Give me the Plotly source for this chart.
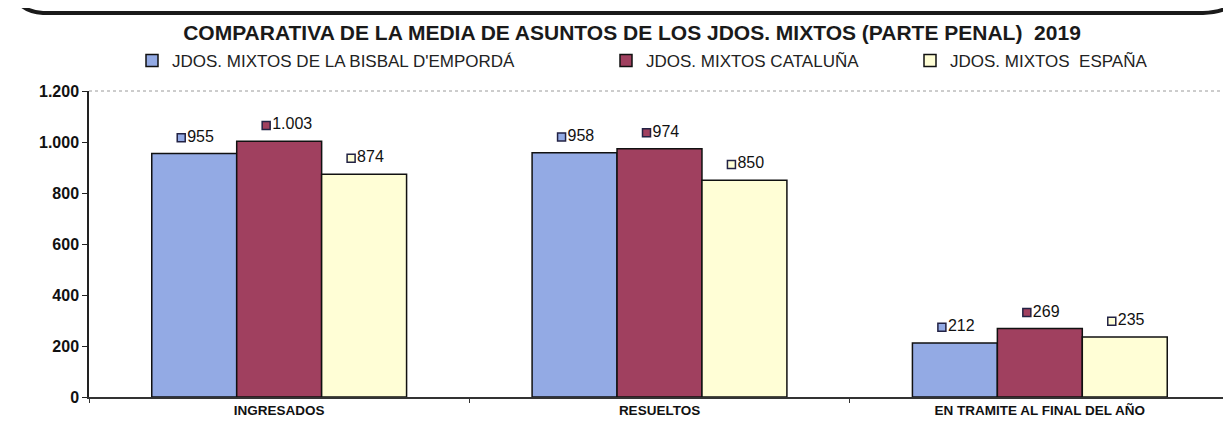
import plotly.graph_objects as go

categories = ["INGRESADOS", "RESUELTOS", "EN TRAMITE AL FINAL DEL AÑO"]
series_names = ["JDOS. MIXTOS DE LA BISBAL D'EMPORDÁ", "JDOS. MIXTOS CATALUÑA", "JDOS. MIXTOS  ESPAÑA"]
bisbal = [955, 958, 212]
cataluna = [1003, 974, 269]
espana = [874, 850, 235]
y_ticks = [0, 200, 400, 600, 800, 1000, 1200]

colors = ["#93AAE4", "#A0405F", "#FFFED6"]
legend_x = [124, 598, 902]  # left edge of each legend (px)
FONT = "Liberation Sans, Arial"

W, H = 1231, 428
L, R, T, B = 81, 9, 83, 39
pw, ph = W - L - R, H - T - B
label_shift = 13 / (pw / 3)  # data labels sit slightly left of bar centre

fig = go.Figure()

for i, (name, vals) in enumerate(zip(series_names, [bisbal, cataluna, espana])):
    leg = "legend" if i == 0 else f"legend{i + 1}"
    fig.add_trace(go.Bar(
        x=categories, y=vals, name=name,
        marker=dict(color=colors[i], line=dict(color="#111111", width=1.5)),
        legend=leg, offsetgroup=str(i),
    ))
    # value labels with a little key square, like the excel original
    fig.add_trace(go.Scatter(
        x=categories, y=[v + 62 for v in vals], xaxis="x2",
        mode="markers+text",
        marker=dict(symbol="square", size=8, color=colors[i],
                    line=dict(color="#222244", width=1.5)),
        text=[f"{v:,}".replace(",", ".") for v in vals],
        textposition="middle right",
        textfont=dict(family=FONT, size=16, color="#111111"),
        showlegend=False, offsetgroup=str(i), hoverinfo="skip",
    ))

# plot frame: light top / right edges
fig.add_shape(type="line", xref="paper", yref="paper", x0=0, x1=1, y0=1, y1=1,
              line=dict(color="#9a9a9a", width=1, dash="dot"))
fig.add_shape(type="line", xref="paper", yref="paper", x0=1, x1=1, y0=0, y1=1,
              line=dict(color="#8a8a9a", width=1))

# bottom edge of the rounded box above the chart
def px2paper(x, y):
    return (x - L) / pw, (H - B - y) / ph

pts = [px2paper(*p) for p in [(10, -6), (18, 4), (35, 5), (1195, 5), (1218, 4), (1228, -6)]]
path = (f"M {pts[0][0]:.4f},{pts[0][1]:.4f} Q {pts[1][0]:.4f},{pts[1][1]:.4f} {pts[2][0]:.4f},{pts[2][1]:.4f} "
        f"L {pts[3][0]:.4f},{pts[3][1]:.4f} Q {pts[4][0]:.4f},{pts[4][1]:.4f} {pts[5][0]:.4f},{pts[5][1]:.4f}")
fig.add_shape(type="path", xref="paper", yref="paper", path=path,
              line=dict(color="#1a1a1a", width=4))

legend_base = dict(orientation="h", xref="container", yref="container", y=1 - 53 / H,
                   yanchor="middle", xanchor="left", bgcolor="rgba(0,0,0,0)",
                   font=dict(family=FONT, size=17, color="#222222"))
fig.update_layout(
    legend=dict(legend_base, x=legend_x[0] / W),
    legend2=dict(legend_base, x=legend_x[1] / W),
    legend3=dict(legend_base, x=legend_x[2] / W),
)

fig.update_layout(
    width=W, height=H,
    margin=dict(l=L, r=R, t=T, b=B, autoexpand=False),
    paper_bgcolor="white", plot_bgcolor="white",
    barmode="group", bargap=0.33, bargroupgap=0,
    scattermode="group", scattergap=0.33,
    separators=",.",
    title=dict(text="<b>COMPARATIVA DE LA MEDIA DE ASUNTOS DE LOS JDOS. MIXTOS (PARTE PENAL)  2019</b>",
               x=624 / W, xanchor="center", y=1 - 25 / H, yanchor="middle",
               xref="container", yref="container",
               font=dict(family=FONT, size=21, color="#1a1a1a")),
    font=dict(family=FONT, color="#111111"),
    xaxis2=dict(overlaying="x", type="category", categoryarray=categories,
                range=[-0.5 + label_shift, 2.5 + label_shift], visible=False),
)

fig.update_yaxes(
    range=[0, 1200], tickvals=y_ticks, tickformat=",d",
    showgrid=False, zeroline=False,
    showline=True, linecolor="#222222", linewidth=1.5,
    ticks="outside", ticklen=5, tickcolor="#222222",
    tickfont=dict(family=FONT, size=16, weight="bold", color="#111111"),
)
fig.update_xaxes(
    showgrid=False, showline=True, linecolor="#333333", linewidth=1.5,
    ticks="outside", tickson="boundaries", ticklen=4, tickcolor="#333333",
    tickangle=0,
    tickfont=dict(family=FONT, size=13.5, weight="bold", color="#111111"),
    selector=dict(anchor="y"),
)
fig.update_layout(xaxis=dict(showgrid=False, showline=True, linecolor="#333333", linewidth=1.5,
                             ticks="outside", tickson="boundaries", ticklen=4, tickcolor="#333333",
                             tickangle=0,
                             tickfont=dict(family=FONT, size=13.5, weight="bold", color="#111111")))

fig.write_html("out.html")
